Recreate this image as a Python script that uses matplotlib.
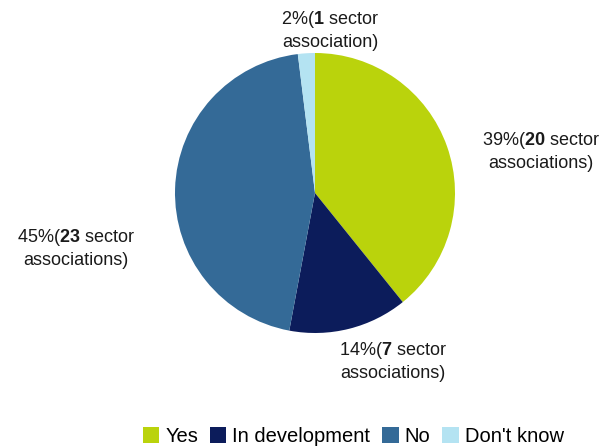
import matplotlib.pyplot as plt
from matplotlib.patches import Patch

# survey answers from sector associations
categories = ["Yes", "In development", "No", "Don't know"]
counts = [20, 7, 23, 1]
colors = ["#BAD30C", "#0C1C5B", "#346A97", "#B4E3F2"]

plt.rcParams['font.family'] = ['Liberation Sans', 'DejaVu Sans']
plt.rcParams['mathtext.fontset'] = 'custom'
plt.rcParams['mathtext.rm'] = 'Liberation Sans'
plt.rcParams['mathtext.bf'] = 'Liberation Sans:bold'

fig = plt.figure(figsize=(6.04, 4.48), dpi=100)
ax = fig.add_axes([0, 0, 1, 1])

ax.pie(counts, colors=colors, startangle=90, counterclock=False,
       center=(315, 255), radius=140, frame=True,
       wedgeprops=dict(linewidth=0))
ax.set_xlim(0, 604)
ax.set_ylim(0, 448)
ax.set_aspect('equal')
ax.axis('off')

total = sum(counts)
# label positions (pixel-like data coords, y measured up)
label_pos = [(541, 297), (393, 87), (76, 200), (330, 418)]
for n, (x, y) in zip(counts, label_pos):
    pct = round(100 * n / total)
    word = "association" if n == 1 else "associations"
    ax.text(x, y, f"{pct}%($\\mathbf{{{n}}}$ sector\n{word})",
            ha='center', va='center', fontsize=13, color='#1a1a1a',
            linespacing=1.3)

handles = [Patch(facecolor=c, edgecolor='none') for c in colors]
fig.legend(handles, categories, loc='center', bbox_to_anchor=(0.585, 0.026),
           ncol=4, frameon=False, fontsize=14.5, handlelength=0.8,
           handleheight=0.8, handletextpad=0.3, columnspacing=0.6,
           borderpad=0, labelcolor='black')

fig.savefig('out.png', dpi=100)
